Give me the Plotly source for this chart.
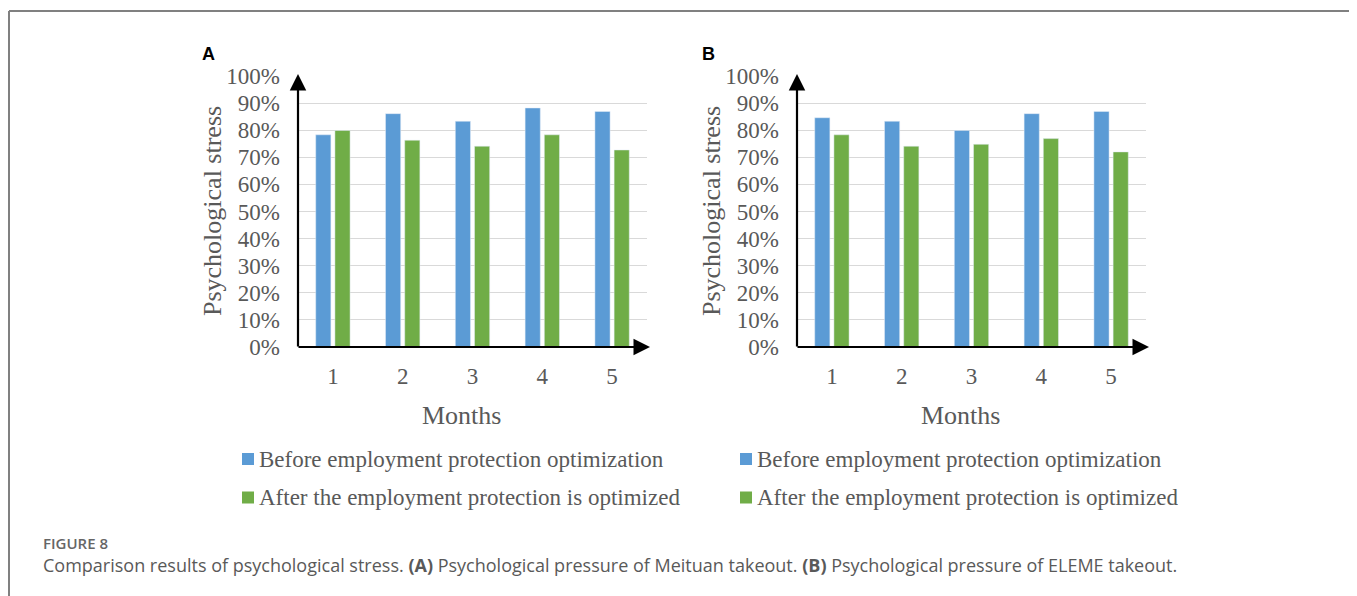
import plotly.graph_objects as go

W, H = 1357, 596
OFF = 8  # default page body margin, compensated so the picture lands where the reference is

months = ["1", "2", "3", "4", "5"]
series_names = ["Before employment protection optimization",
                "After the employment protection is optimized"]
meituan_before = [0.783, 0.861, 0.833, 0.882, 0.869]
meituan_after = [0.799, 0.763, 0.741, 0.783, 0.727]
eleme_before = [0.846, 0.833, 0.799, 0.861, 0.869]
eleme_after = [0.783, 0.741, 0.748, 0.769, 0.720]
y_ticks = [0, 0.1, 0.2, 0.3, 0.4, 0.5, 0.6, 0.7, 0.8, 0.9, 1.0]
panel_labels = ["A", "B"]
caption_head = "FIGURE 8"
caption_text = ("Comparison results of psychological stress. <b>(A)</b> Psychological pressure of "
                "Meituan takeout. <b>(B)</b> Psychological pressure of ELEME takeout.")

BLUE = "#5b9bd5"
GREEN = "#70ad47"
GRAY = "#595959"
SERIF = "Liberation Serif, Times New Roman, serif"


def px(x):
    return (x - OFF) / W


def py(y):
    return 1 - (y - OFF) / H


fig = go.Figure()

panels = [
    dict(data=(meituan_before, meituan_after), xa="x", ya="y", x0=298, x1=647, lab=(208, 54),
         ytitle=212, legx=242),
    dict(data=(eleme_before, eleme_after), xa="x2", ya="y2", x0=797, x1=1146, lab=(708, 54),
         ytitle=711, legx=740),
]
y_zero, y_top = 347, 76

for p in panels:
    for vals, name, col in zip(p["data"], series_names, [BLUE, GREEN]):
        fig.add_trace(go.Bar(x=months, y=vals, name=name, marker_color=col,
                             xaxis=p["xa"], yaxis=p["ya"], showlegend=False,
                             hovertemplate="%{y:.1%}<extra></extra>"))

layout_axes = {}
for i, p in enumerate(panels):
    sfx = "" if i == 0 else "2"
    layout_axes["xaxis" + sfx] = dict(
        domain=[px(p["x0"]), px(p["x1"])], type="category", range=[-0.5, 4.5],
        showgrid=False, zeroline=False, showline=False, ticks="", automargin=False,
        tickfont=dict(family=SERIF, size=23, color=GRAY), ticklabelstandoff=13,
        anchor="y" + sfx, fixedrange=True)
    layout_axes["yaxis" + sfx] = dict(
        domain=[py(y_zero), py(y_top)], range=[0, 1.0], tickvals=y_ticks,
        tickformat=".0%", showgrid=True, gridcolor="#d9d9d9", gridwidth=1.3,
        zeroline=False, showline=False, ticks="", automargin=False,
        tickfont=dict(family=SERIF, size=23, color=GRAY), ticklabelstandoff=17,
        anchor="x" + sfx, fixedrange=True)

annotations = []
shapes = []
for i, p in enumerate(panels):
    # axis arrows
    annotations.append(dict(xref="paper", yref="paper", axref="pixel", ayref="pixel",
                            x=px(p["x0"]), y=py(y_top - 2), ax=0, ay=(y_zero + 1) - (y_top - 2),
                            text="", showarrow=True, arrowhead=2, arrowsize=1.5,
                            arrowwidth=2.2, arrowcolor="black", standoff=0))
    annotations.append(dict(xref="paper", yref="paper", axref="pixel", ayref="pixel",
                            x=px(p["x1"] + 3), y=py(y_zero), ax=-((p["x1"] + 3) - (p["x0"] - 1)), ay=0,
                            text="", showarrow=True, arrowhead=2, arrowsize=1.5,
                            arrowwidth=2.2, arrowcolor="black", standoff=0))
    # panel label
    annotations.append(dict(xref="paper", yref="paper", x=px(p["lab"][0]), y=py(p["lab"][1]),
                            text="<b>%s</b>" % panel_labels[i], showarrow=False,
                            xanchor="center", yanchor="middle",
                            font=dict(family="Liberation Sans, Arial", size=18, color="black")))
    # y title
    annotations.append(dict(xref="paper", yref="paper", x=px(p["ytitle"]), y=py(211),
                            text="Psychological stress", textangle=-90, showarrow=False,
                            xanchor="center", yanchor="middle",
                            font=dict(family=SERIF, size=26, color=GRAY)))
    # x title
    annotations.append(dict(xref="paper", yref="paper", x=px((p["x0"] + p["x1"]) / 2 - 11),
                            y=py(415), text="Months", showarrow=False,
                            xanchor="center", yanchor="middle",
                            font=dict(family=SERIF, size=26, color=GRAY)))
    # legend
    for j, (name, col) in enumerate(zip(series_names, [BLUE, GREEN])):
        cy = 459 + j * 38.5
        shapes.append(dict(type="rect", xref="paper", yref="paper",
                           x0=px(p["legx"]), x1=px(p["legx"] + 12),
                           y0=py(cy - 6), y1=py(cy + 6), fillcolor=col, line_width=0))
        annotations.append(dict(xref="paper", yref="paper", x=px(p["legx"] + 15), y=py(cy),
                                text=name, showarrow=False, xanchor="left", yanchor="middle",
                                font=dict(family=SERIF, size=23, color=GRAY)))

# caption
annotations.append(dict(xref="paper", yref="paper", x=px(41), y=py(543), text=caption_head,
                        showarrow=False, xanchor="left", yanchor="middle",
                        font=dict(family="Open Sans", size=15, color="#666666", weight=600)))
annotations.append(dict(xref="paper", yref="paper", x=px(41), y=py(565), text=caption_text,
                        showarrow=False, xanchor="left", yanchor="middle",
                        font=dict(family="Open Sans", size=18, color="#595959")))

# frame
shapes.append(dict(type="line", xref="paper", yref="paper", x0=px(9), x1=px(9),
                   y0=py(11), y1=0, line=dict(color="#808080", width=2)))
shapes.append(dict(type="line", xref="paper", yref="paper", x0=px(9), x1=1,
                   y0=py(11), y1=py(11), line=dict(color="#808080", width=2)))

fig.update_layout(
    width=W, height=H, margin=dict(l=0, r=0, t=0, b=0),
    paper_bgcolor="white", plot_bgcolor="white",
    barmode="group", bargap=0.45, bargroupgap=0.21,
    annotations=annotations, shapes=shapes, showlegend=False,
    **layout_axes)

fig.write_html("out.html")
